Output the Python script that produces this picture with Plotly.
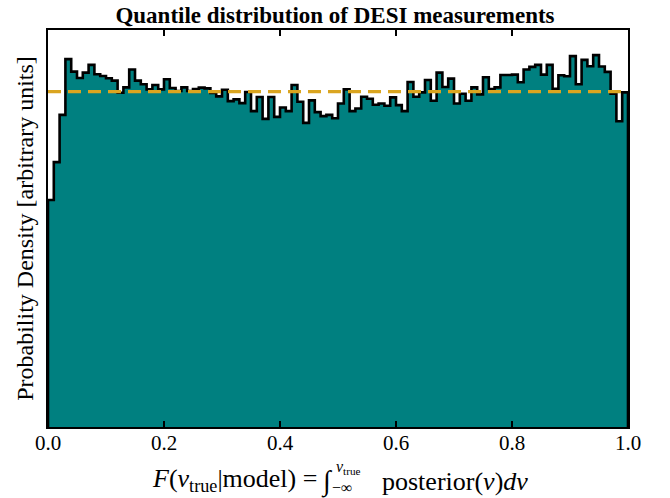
import numpy as np
import plotly.graph_objects as go

# Histogram of quantiles F(v_true | model): 100 equal bins on [0, 1], density-normalised
bin_edges = np.linspace(0.0, 1.0, 101)
density = [
    0.677, 0.790, 0.931, 1.097, 1.060, 1.041, 1.057, 1.080, 1.052, 1.047,
    1.040, 1.033, 0.997, 1.013, 1.066, 1.033, 1.022, 1.007, 1.020, 1.007,
    1.037, 1.011, 1.002, 1.013, 1.002, 1.008, 1.012, 1.010, 0.996, 0.986,
    1.006, 0.972, 0.977, 0.966, 0.999, 0.942, 0.984, 0.919, 0.984, 0.925,
    0.953, 0.942, 1.020, 0.970, 0.907, 0.974, 0.939, 0.927, 0.931, 0.921,
    0.965, 1.007, 0.942, 0.950, 0.985, 0.979, 0.961, 0.965, 0.958, 0.983,
    0.960, 0.942, 1.029, 0.985, 0.998, 1.035, 0.973, 1.057, 1.014, 1.039,
    0.965, 0.994, 0.973, 1.013, 0.992, 1.043, 1.008, 1.013, 1.050, 1.050,
    1.051, 1.028, 1.066, 1.074, 1.080, 1.051, 1.080, 1.009, 1.049, 1.046,
    1.106, 1.022, 1.095, 1.076, 1.109, 1.075, 1.059, 0.994, 0.912, 0.998,
]
uniform_level = 1.0
x_ticks = [0.0, 0.2, 0.4, 0.6, 0.8, 1.0]
x_tick_text = ["0.0", "0.2", "0.4", "0.6", "0.8", "1.0"]

SERIF = "Liberation Serif, Times New Roman, serif"
TEAL = "#008080"
GOLD = "#DAA520"

# step outline: start and end on the baseline like a filled step histogram
step_x = [0.0] + list(bin_edges[:-1]) + [1.0, 1.0]
step_y = [0.0] + list(density) + [density[-1], 0.0]

fig = go.Figure()
fig.add_trace(go.Scatter(
    x=step_x, y=step_y, mode="lines", line_shape="hv",
    line=dict(color="black", width=2.6),
    fill="tozeroy", fillcolor=TEAL, hoverinfo="skip", showlegend=False,
))
fig.add_trace(go.Scatter(
    x=[0.0, 1.0], y=[uniform_level, uniform_level], mode="lines",
    line=dict(color=GOLD, width=3.2, dash="13px,7px"),
    hoverinfo="skip", showlegend=False,
))

W, H = 670, 498
L, R, T, B = 48, 42, 30, 71
pw, ph = W - L - R, H - T - B


def px(xp):
    return (xp - L) / pw


def py(yp):
    return (H - B - yp) / ph


label_font = dict(family=SERIF, size=26, color="black")
small_font = dict(family=SERIF, size=16, color="black")
annotations = [
    dict(text="<i>F</i>(<i>v</i><sub>true</sub>|model) =", x=px(319), y=py(480),
         xanchor="right", yanchor="middle", font=label_font),
    dict(text="∫", x=px(327), y=py(481), xanchor="center", yanchor="middle",
         font=dict(family=SERIF, size=28, color="black")),
    dict(text="<i>v</i><sub>true</sub>", x=px(334), y=py(467), xanchor="left",
         yanchor="middle", font=small_font),
    dict(text="−∞", x=px(330), y=py(488), xanchor="left", yanchor="middle",
         font=small_font),
    dict(text="posterior(<i>v</i>)<i>dv</i>", x=px(380), y=py(481),
         xanchor="left", yanchor="middle", font=label_font),
]
for a in annotations:
    a.update(xref="paper", yref="paper", showarrow=False)

fig.update_layout(
    width=W, height=H,
    margin=dict(l=L, r=R, t=T, b=B),
    paper_bgcolor="white", plot_bgcolor="white",
    title=dict(text="<b>Quantile distribution of DESI measurements</b>",
               x=0.5, xanchor="center", y=1 - 15 / H, yanchor="middle",
               font=dict(family=SERIF, size=23, color="black")),
    font=dict(family=SERIF, color="black"),
    annotations=annotations,
)
fig.update_xaxes(
    range=[0, 1], tickvals=x_ticks, ticktext=x_tick_text,
    ticks="inside", ticklen=6, tickwidth=1.6, tickcolor="black",
    showline=True, linewidth=2, linecolor="black", mirror="ticks",
    showgrid=False, zeroline=False, ticklabelstandoff=-4,
    tickfont=dict(family=SERIF, size=21, color="black"),
)
fig.update_yaxes(
    range=[0, 1.184], showticklabels=False, ticks="",
    showline=True, linewidth=2, linecolor="black", mirror=True,
    showgrid=False, zeroline=False,
    title=dict(text="Probability Density [arbitrary units]", standoff=6,
               font=dict(family=SERIF, size=24, color="black")),
)

fig.write_html("out.html")
